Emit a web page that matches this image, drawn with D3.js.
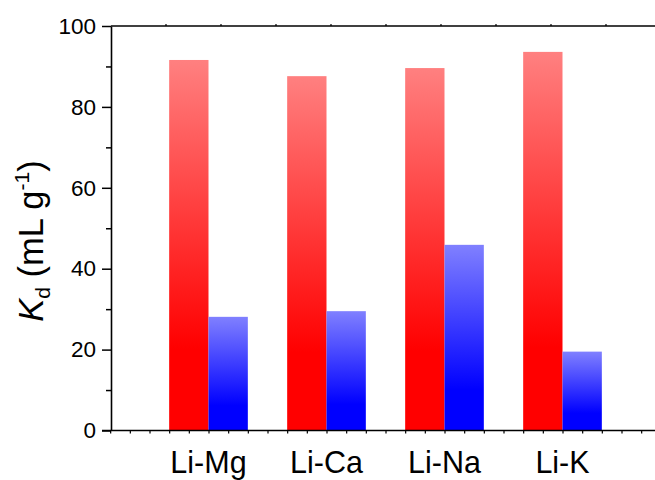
<!DOCTYPE html>
<html>
<head>
<meta charset="utf-8">
<script src="https://cdn.jsdelivr.net/npm/d3@7"></script>
<style>
  html, body { margin: 0; padding: 0; background: #fff; }
  svg { display: block; font-family: "Liberation Sans", Arial, sans-serif; }
</style>
</head>
<body>
<svg id="chart" width="655" height="480"></svg>
<script>
// Distribution coefficients for Li against each competing ion
const categories = ["Li-Mg", "Li-Ca", "Li-Na", "Li-K"];
const liValues = [91.6, 87.6, 89.6, 93.6];      // red bars
const otherValues = [28.1, 29.5, 45.9, 19.5];   // blue bars
const yTickValues = [0, 20, 40, 60, 80, 100];

const svg = d3.select("#chart");
const W = 655, H = 480;
const plotLeft = 111, plotBottom = 430.5, plotTop = 26;

// Category index i is centred at x(i); each bar is one third of a unit wide
const x = d3.scaleLinear().domain([0, 3]).range([208.5, 562.5]);
const y = d3.scaleLinear().domain([0, 100]).range([plotBottom, plotTop]);

// Vertical gradients: light tint at the top, full colour toward the base
const defs = svg.append("defs");
function grad(id, light, full) {
  const g = defs.append("linearGradient").attr("id", id)
    .attr("x1", 0).attr("y1", 0).attr("x2", 0).attr("y2", 1);
  g.append("stop").attr("offset", "0%").attr("stop-color", light);
  g.append("stop").attr("offset", "78%").attr("stop-color", full);
  g.append("stop").attr("offset", "100%").attr("stop-color", full);
}
grad("gRed", "#ff8080", "#ff0000");
grad("gBlue", "#8080ff", "#0000ff");

const bw = x(1 / 3) - x(0);

svg.append("g").selectAll("rect").data(liValues).join("rect")
  .attr("x", (d, i) => x(i) - bw)
  .attr("y", d => y(d))
  .attr("width", bw)
  .attr("height", d => y(0) - y(d))
  .attr("fill", "url(#gRed)");

svg.append("g").selectAll("rect").data(otherValues).join("rect")
  .attr("x", (d, i) => x(i))
  .attr("y", d => y(d))
  .attr("width", bw)
  .attr("height", d => y(0) - y(d))
  .attr("fill", "url(#gBlue)");

// Left axis: major ticks with labels, minor ticks between
const yAxis = d3.axisLeft(y).tickValues(yTickValues).tickSize(9).tickSizeOuter(0).tickPadding(6);
const gy = svg.append("g").attr("transform", `translate(${plotLeft},0)`).call(yAxis);
gy.select(".domain").attr("stroke-width", 1.6);
gy.selectAll(".tick line").attr("stroke-width", 1.5);
gy.selectAll(".tick text").attr("font-size", 22.5).attr("fill", "#000")
  .attr("font-family", "Liberation Sans, Arial, sans-serif");
const minorY = d3.range(10, 100, 20);
svg.append("g").attr("transform", `translate(${plotLeft},0)`)
  .call(d3.axisLeft(y).tickValues(minorY).tickSize(5).tickFormat(""))
  .call(g => g.select(".domain").remove())
  .selectAll(".tick line").attr("stroke-width", 1.5);

// Bottom axis: small ticks every sixth of a category step, running off the right edge
const xMinor = d3.range(-5, 27).map(k => k / 6).filter(v => x(v) <= W);
const gx = svg.append("g").attr("transform", `translate(0,${plotBottom})`)
  .call(d3.axisBottom(x).tickValues(xMinor).tickSize(3).tickFormat("").tickSizeOuter(0));
gx.select(".domain").attr("d", `M${plotLeft - 9},0H${W}`).attr("stroke-width", 1.6);
gx.selectAll(".tick line").attr("stroke-width", 1.2);

// Category labels
svg.append("g").selectAll("text").data(categories).join("text")
  .attr("x", (d, i) => x(i))
  .attr("y", 473)
  .attr("text-anchor", "middle")
  .attr("font-size", 30.5)
  .attr("fill", "#000")
  .text(d => d);

// Top frame line with tiny upward ticks
svg.append("line").attr("x1", plotLeft).attr("x2", W).attr("y1", plotTop).attr("y2", plotTop)
  .attr("stroke", "#000").attr("stroke-width", 1.6);
svg.append("g").selectAll("line").data(d3.range(1, 10)).join("line")
  .attr("x1", k => plotLeft + 55 * k).attr("x2", k => plotLeft + 55 * k)
  .attr("y1", plotTop).attr("y2", plotTop - 2)
  .attr("stroke", "#000").attr("stroke-width", 1.2);

// Y-axis title: K_d (mL g^-1)
const title = svg.append("text")
  .attr("transform", "translate(43,241) rotate(-90)")
  .attr("text-anchor", "middle")
  .attr("font-size", 34.5)
  .attr("fill", "#000");
title.append("tspan").attr("font-style", "italic").text("K");
title.append("tspan").attr("font-size", 21).attr("dy", 7).text("d");
title.append("tspan").attr("dy", -7).text(" (mL g");
title.append("tspan").attr("font-size", 21).attr("dy", -14).text("-1");
title.append("tspan").attr("dy", 14).text(")");
</script>
</body>
</html>
